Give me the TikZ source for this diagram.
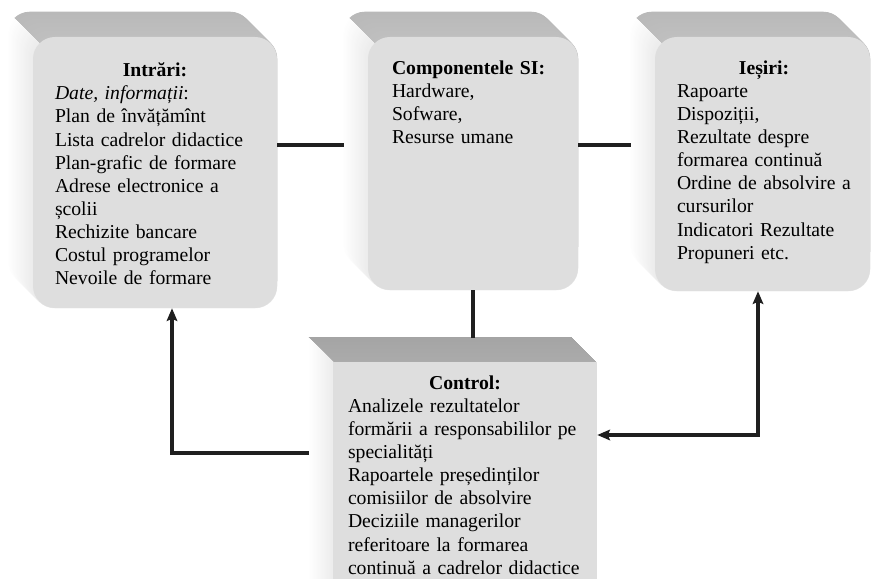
\documentclass[tikz,border=0pt]{standalone}
\usepackage{fontspec}
\setmainfont{Liberation Serif}
\usetikzlibrary{arrows.meta,positioning,backgrounds,calc}
\definecolor{facegray}{HTML}{DEDEDE}
% extruded back part of a block: node, corner option, top face shade
\newcommand{\slab}[3]{%
  \begin{scope}
    \clip ($(#1.north west)+(-12,12)$) -- ($(#1.north west)+(12,-12)$) -- ++(0,24) -- cycle;
    \foreach \i in {25,...,0}{
      \pgfmathsetmacro{\tone}{#3+0.1*\i}
      \fill[black!\tone,#2] ($(#1.south west)+(-\i*0.025,\i*0.025)$) rectangle ($(#1.north east)+(-\i*0.025,\i*0.025)$);}
  \end{scope}
  \begin{scope}
    \clip ($(#1.north west)+(-12,12)$) -- ($(#1.north west)+(12,-12)$) -- ++(-24,0) -- cycle;
    \foreach \i in {25,...,0}{
      \pgfmathsetmacro{\tone}{0.3*(25-\i)}
      \fill[black!\tone,#2] ($(#1.south west)+(-\i*0.025,\i*0.025)$) rectangle ($(#1.north east)+(-\i*0.025,\i*0.025)$);}
  \end{scope}}

\begin{document}
\begin{tikzpicture}[font=\fontsize{14}{16.4}\selectfont,
  box/.style={fill=facegray,rounded corners=0.55cm,inner sep=0},
  flat/.style={fill=facegray,inner sep=0},
  txt/.style={anchor=north west,inner sep=0,align=left},
  link/.style={line width=2.2pt,draw=black!88},
  arr/.style={link,-{Stealth[length=9pt,width=7.5pt,inset=1.5pt]}},
  arrs/.style={link,{Stealth[length=9pt,width=7.5pt,inset=1.5pt]}-{Stealth[length=9pt,width=7.5pt,inset=1.5pt]}}]

\useasboundingbox (0,0) rectangle (21.85,14.475);

% ---- blocks
\node[box,minimum width=6.1cm,minimum height=6.775cm] (intr) at (3.875,10.1625) {};
\node[box,minimum width=5.25cm,minimum height=6.325cm] (comp) at (11.825,10.3875) {};
\node[box,minimum width=5.375cm,minimum height=6.35cm] (iesi) at (19.0625,10.375) {};
\node[flat,minimum width=6.6cm,minimum height=6.025cm] (ctrl) at (11.625,2.4125) {};

% ---- texts
\node[txt,text width=5cm] (intrtxt) at ([xshift=0.55cm,yshift=-0.65cm]intr.north west)
  {{\centering\textbf{Intrări:}\par}
   \textit{Date, informații}:\\Plan de învățămînt\\Lista cadrelor didactice\\
   Plan-grafic de formare\\Adrese electronice a\\școlii\\Rechizite bancare\\
   Costul programelor\\Nevoile de formare};
\node[txt,text width=4.5cm] (comptxt) at ([xshift=0.6cm,yshift=-0.6cm]comp.north west)
  {\textbf{Componentele SI:}\\Hardware,\\Sofware,\\Resurse umane};
\node[txt,text width=4.35cm] (iesitxt) at ([xshift=0.55cm,yshift=-0.6cm]iesi.north west)
  {{\centering\textbf{Ieșiri:}\par}
   Rapoarte\\Dispoziții,\\Rezultate despre\\formarea continuă\\
   Ordine de absolvire a\\cursurilor\\Indicatori Rezultate\\Propuneri etc.};
\node[txt,text width=5.85cm] (ctrltxt) at ([xshift=0.375cm,yshift=-0.35cm]ctrl.north west)
  {{\centering\textbf{Control:}\par}
   Analizele rezultatelor\\formării a responsabililor pe\\specialități\\
   Rapoartele președinților\\comisiilor de absolvire\\Deciziile managerilor\\
   referitoare la formarea\\continuă a cadrelor didactice};

% ---- depth of the blocks
\begin{scope}[on background layer]
  \slab{intr}{rounded corners=0.55cm}{25}
  \slab{comp}{rounded corners=0.55cm}{25}
  \slab{iesi}{rounded corners=0.55cm}{25}
  \slab{ctrl}{sharp corners}{33}
\end{scope}

% ---- connectors
\coordinate (lvl) at (0,10.85);
\coordinate (fbl) at (4.3,3.15);
\coordinate (fbr) at (18.95,3.6);
\draw[link,shorten >=0.6cm] (intr.east |- lvl) -- (comp.west |- lvl);
\draw[link,shorten >=0.6cm] (comp.east |- lvl) -- (iesi.west |- lvl);
\draw[link,shorten >=0.6cm] (comp.south) -- (comp.south |- ctrl.north);
\draw[arr,shorten <=0.6cm] (ctrl.west |- fbl) -| (intr.south -| fbl);
\draw[arrs] (iesi.south -| fbr) |- (ctrl.east |- fbr);
\end{tikzpicture}
\end{document}
